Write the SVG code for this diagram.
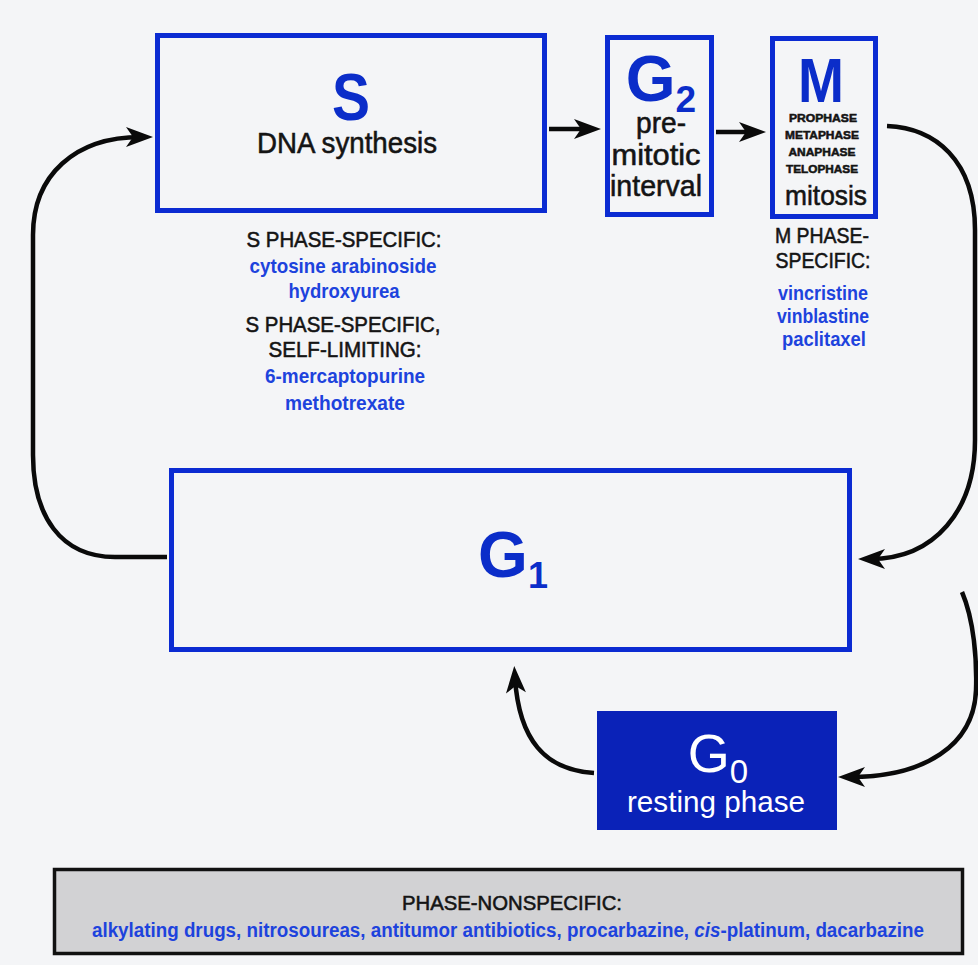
<svg xmlns="http://www.w3.org/2000/svg" width="978" height="965" viewBox="0 0 978 965">
<defs>
<style>
text{font-family:"Liberation Sans",Arial,sans-serif}
.box{fill:none;stroke:#0b2bd2;stroke-width:5}
.big{font-weight:bold;fill:#0b2dc9;text-anchor:middle}
.lab{fill:#141414;stroke:#141414;stroke-width:0.55;text-anchor:middle}
.drug{fill:#1d43dd;font-weight:bold;text-anchor:middle}
.conn{fill:none;stroke:#0a0a0a;stroke-width:4.5;marker-end:url(#ah)}
</style>
<marker id="ah" markerUnits="userSpaceOnUse" viewBox="-16 -11 29 22" refX="0" refY="0" markerWidth="29" markerHeight="22" orient="auto">
<path d="M12,0 L-15,-10 L-8,0 L-15,10 Z" fill="#0a0a0a"/>
</marker>
</defs>
<rect x="0" y="0" width="978" height="965" fill="#f4f5f7"/>

<g id="connectors">
<path class="conn" d="M549 129 L589 129"/>
<path class="conn" d="M716 132 L754 132"/>
<path class="conn" d="M887 126 C935 128 975 160 975 230 L975 440 C975 510 935 559 870 559"/>
<path class="conn" d="M962 592 C974 620 977 660 976 690 C974 745 925 777 850 777"/>
<path class="conn" d="M594 773 C545 770 519 740 515 678"/>
<path class="conn" d="M167 557 L115 557 C60 557 33 515 33 455 L33 235 C33 175 75 137 141 137"/>
</g>

<g id="node-S">
<rect class="box" x="157.5" y="35.5" width="387" height="175"/>
<text class="big" x="351" y="120" font-size="66" textLength="38" lengthAdjust="spacingAndGlyphs">S</text>
<text class="lab" x="347" y="153" font-size="29" textLength="180" lengthAdjust="spacingAndGlyphs">DNA synthesis</text>
<text class="lab" x="344" y="247" font-size="22" textLength="195" lengthAdjust="spacingAndGlyphs">S PHASE-SPECIFIC:</text>
<text class="drug" x="343" y="273" font-size="21" textLength="187" lengthAdjust="spacingAndGlyphs">cytosine arabinoside</text>
<text class="drug" x="344" y="298" font-size="21" textLength="111" lengthAdjust="spacingAndGlyphs">hydroxyurea</text>
<text class="lab" x="343" y="332" font-size="22" textLength="195" lengthAdjust="spacingAndGlyphs">S PHASE-SPECIFIC,</text>
<text class="lab" x="345" y="357" font-size="22" textLength="153" lengthAdjust="spacingAndGlyphs">SELF-LIMITING:</text>
<text class="drug" x="345" y="383" font-size="21" textLength="160" lengthAdjust="spacingAndGlyphs">6-mercaptopurine</text>
<text class="drug" x="345" y="410" font-size="21" textLength="120" lengthAdjust="spacingAndGlyphs">methotrexate</text>
</g>

<g id="node-G2">
<rect class="box" x="607.5" y="37.5" width="104" height="177"/>
<text class="big" x="661" y="101" font-size="64">G<tspan font-size="37" dy="11">2</tspan></text>
<text class="lab" x="661" y="133" font-size="29" textLength="50" lengthAdjust="spacingAndGlyphs">pre-</text>
<text class="lab" x="656" y="165" font-size="29" textLength="89" lengthAdjust="spacingAndGlyphs">mitotic</text>
<text class="lab" x="656" y="196" font-size="29" textLength="92" lengthAdjust="spacingAndGlyphs">interval</text>
</g>

<g id="node-M">
<rect class="box" x="772.5" y="38.5" width="103" height="178"/>
<text class="big" x="821" y="102" font-size="63" textLength="46" lengthAdjust="spacingAndGlyphs">M</text>
<text class="lab" x="823" y="122" font-size="11.5" font-weight="bold" stroke-width="0.2" textLength="68" lengthAdjust="spacingAndGlyphs">PROPHASE</text>
<text class="lab" x="822" y="139" font-size="11.5" font-weight="bold" stroke-width="0.2" textLength="74" lengthAdjust="spacingAndGlyphs">METAPHASE</text>
<text class="lab" x="822" y="156" font-size="11.5" font-weight="bold" stroke-width="0.2" textLength="67" lengthAdjust="spacingAndGlyphs">ANAPHASE</text>
<text class="lab" x="822" y="173" font-size="11.5" font-weight="bold" stroke-width="0.2" textLength="72" lengthAdjust="spacingAndGlyphs">TELOPHASE</text>
<text class="lab" x="826" y="205" font-size="28" textLength="82" lengthAdjust="spacingAndGlyphs">mitosis</text>
<text class="lab" x="822" y="243" font-size="22" textLength="94" lengthAdjust="spacingAndGlyphs">M PHASE-</text>
<text class="lab" x="823" y="268" font-size="22" textLength="95" lengthAdjust="spacingAndGlyphs">SPECIFIC:</text>
<text class="drug" x="823" y="300" font-size="21" textLength="90" lengthAdjust="spacingAndGlyphs">vincristine</text>
<text class="drug" x="823" y="323" font-size="21" textLength="92" lengthAdjust="spacingAndGlyphs">vinblastine</text>
<text class="drug" x="824" y="346" font-size="21" textLength="84" lengthAdjust="spacingAndGlyphs">paclitaxel</text>
</g>

<g id="node-G1">
<rect class="box" x="171.5" y="470.5" width="678" height="179"/>
<text class="big" x="513" y="577" font-size="64">G<tspan font-size="36" dy="11">1</tspan></text>
</g>

<g id="node-G0">
<rect x="597" y="711" width="240" height="119" fill="#0a22b8"/>
<text x="718" y="772" font-size="54" fill="#ffffff" text-anchor="middle">G<tspan font-size="33" dy="11">0</tspan></text>
<text x="716" y="812" font-size="29" fill="#ffffff" text-anchor="middle" textLength="178" lengthAdjust="spacingAndGlyphs">resting phase</text>
</g>

<g id="node-nonspecific">
<rect x="54.5" y="869.5" width="908" height="84" fill="#d2d2d4" stroke="#111111" stroke-width="3.5"/>
<text class="lab" x="512" y="910" font-size="21" textLength="220" lengthAdjust="spacingAndGlyphs">PHASE-NONSPECIFIC:</text>
<text x="508" y="937" font-size="20" font-weight="bold" fill="#1d43dd" text-anchor="middle" textLength="832" lengthAdjust="spacingAndGlyphs">alkylating drugs, nitrosoureas, antitumor antibiotics, procarbazine, <tspan font-style="italic">cis</tspan>-platinum, dacarbazine</text>
</g>
</svg>
